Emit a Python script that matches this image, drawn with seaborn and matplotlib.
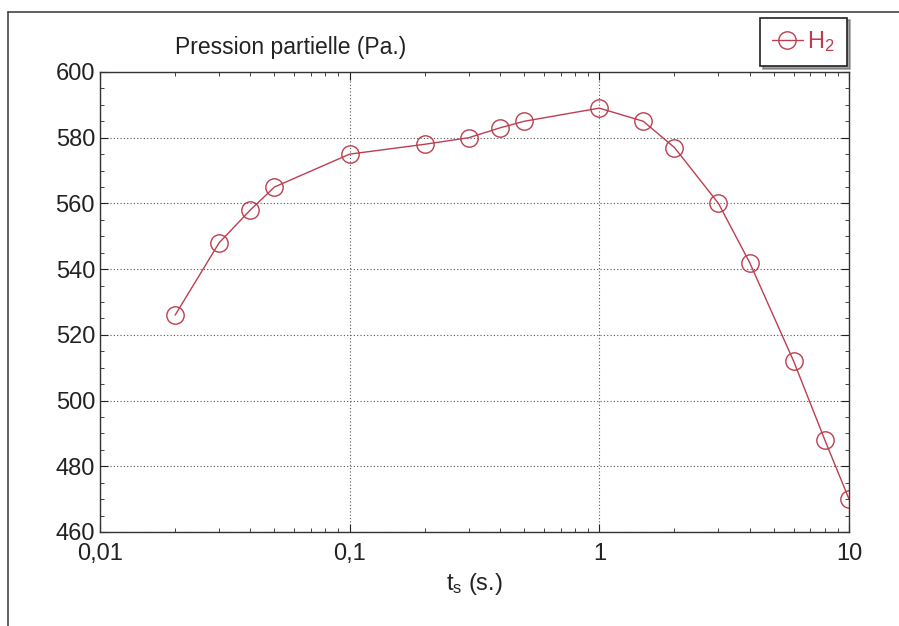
import matplotlib
matplotlib.use("Agg")
import matplotlib.pyplot as plt
import matplotlib.ticker as mticker
from matplotlib.lines import Line2D
import pandas as pd
import seaborn as sns

# data
t_s = [0.02, 0.03, 0.04, 0.05, 0.1, 0.2, 0.3, 0.4, 0.5, 1, 1.5, 2, 3, 4, 6, 8, 10]
p_h2 = [526, 548, 558, 565, 575, 578, 580, 583, 585, 589, 585, 577, 560, 542, 512, 488, 470]
x_ticks = [0.01, 0.1, 1, 10]
x_labels = ["0,01", "0,1", "1", "10"]
y_ticks = [460, 480, 500, 520, 540, 560, 580, 600]

df = pd.DataFrame({"t": t_s, "p": p_h2})
red = "#bc3e50"

sns.set_theme(style="ticks")
plt.rcParams["font.family"] = ["Liberation Sans", "DejaVu Sans"]
plt.rcParams["mathtext.fontset"] = "custom"
plt.rcParams["mathtext.rm"] = "Liberation Sans"
plt.rcParams["mathtext.it"] = "Liberation Sans"

fig = plt.figure(figsize=(8.99, 6.26), dpi=100)
ax = fig.add_axes([0.1112, 0.1502, 0.8332, 0.7348])

sns.lineplot(data=df, x="t", y="p", ax=ax, color=red, linewidth=1.0,
             marker="o", markersize=12.5, markerfacecolor="none",
             markeredgecolor=red, markeredgewidth=1.0, label="H$_2$")

ax.set_xscale("log")
ax.set_xlim(0.01, 10)
ax.set_ylim(460, 600)
ax.set_xticks(x_ticks, x_labels)
ax.xaxis.set_minor_locator(mticker.LogLocator(base=10, subs=range(2, 10)))
ax.xaxis.set_minor_formatter(mticker.NullFormatter())
ax.set_yticks(y_ticks)
ax.yaxis.set_minor_locator(mticker.MultipleLocator(5))

ax.tick_params(which="both", direction="in", top=True, right=True,
               labelsize=17, colors="#222222")
ax.tick_params(which="major", length=6, width=0.8)
ax.tick_params(which="minor", length=3, width=0.6)
ax.tick_params(axis="x", pad=8)

ax.grid(True, which="major", linestyle=(0, (1, 2)), color="#555555", linewidth=0.8)
for s in ax.spines.values():
    s.set_color("#333333")
    s.set_linewidth(1.0)

ax.set_xlabel("$t_s$ (s.)", fontsize=17, color="#222222", labelpad=4)
ax.set_ylabel("")
fig.text(0.195, 0.924, "Pression partielle (Pa.)", fontsize=16.5,
         color="#222222", ha="left", va="center")

leg = ax.legend(loc="upper right", bbox_to_anchor=(0.942, 0.972),
                bbox_transform=fig.transFigure, frameon=True, fancybox=False,
                shadow=True, fontsize=17, handlelength=1.3, borderpad=0.5,
                handletextpad=0.2, borderaxespad=0)
leg.get_frame().set_edgecolor("#222222")
leg.get_frame().set_linewidth(1.2)
for txt in leg.get_texts():
    txt.set_color(red)

# outer frame of the scanned figure
fig.add_artist(Line2D([0.009, 1.0], [0.981, 0.981], color="#444444", lw=1.2,
                      transform=fig.transFigure))
fig.add_artist(Line2D([0.009, 0.009], [0.0, 0.981], color="#444444", lw=1.2,
                      transform=fig.transFigure))

fig.savefig("out.png", dpi=100)
